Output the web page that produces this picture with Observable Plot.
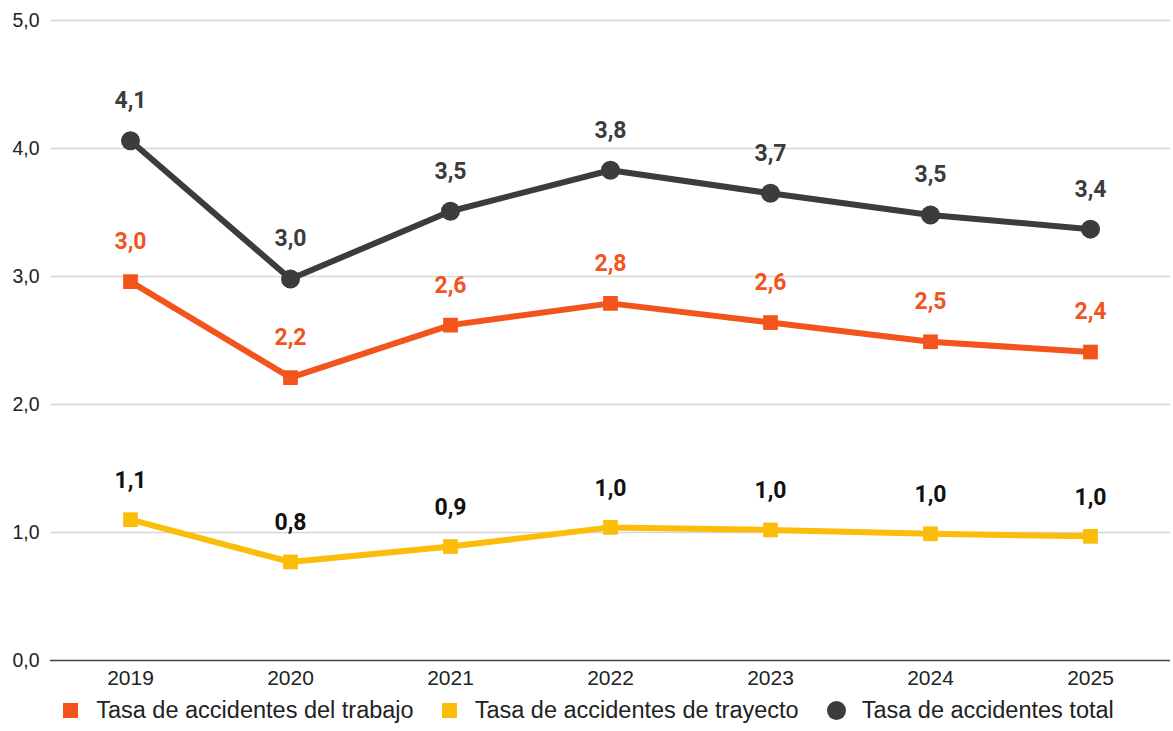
<!DOCTYPE html>
<html>
<head>
<meta charset="utf-8">
<script src="https://cdn.jsdelivr.net/npm/d3@7"></script>
<script src="https://cdn.jsdelivr.net/npm/@observablehq/plot@0.6"></script>
<style>
  html, body { margin: 0; padding: 0; background: #fff; }
  #chart svg { display: block; }
  .legend { display: flex; justify-content: center; align-items: center; height: 41px; font-family: "Liberation Sans", Arial, sans-serif; font-size: 23.5px; color: #222; padding-left: 4px; }
  .legend .item { display: flex; align-items: center; margin: 0 14px; }
  .legend .sw { width: 15px; height: 15px; margin-right: 18px; }
  .legend .sw.circle { width: 19px; height: 19px; border-radius: 50%; margin-right: 16px; }
</style>
</head>
<body>
<div id="chart"></div>
<script>
const years = ["2019", "2020", "2021", "2022", "2023", "2024", "2025"];
const trabajo = [2.96, 2.21, 2.62, 2.79, 2.64, 2.49, 2.41];
const trayecto = [1.10, 0.77, 0.89, 1.04, 1.02, 0.99, 0.97];
const total = [4.06, 2.98, 3.51, 3.83, 3.65, 3.48, 3.37];
const trabajoLabels = ["3,0", "2,2", "2,6", "2,8", "2,6", "2,5", "2,4"];
const trayectoLabels = ["1,1", "0,8", "0,9", "1,0", "1,0", "1,0", "1,0"];
const totalLabels = ["4,1", "3,0", "3,5", "3,8", "3,7", "3,5", "3,4"];
const seriesNames = ["Tasa de accidentes del trabajo", "Tasa de accidentes de trayecto", "Tasa de accidentes total"];
const yTicks = [0, 1, 2, 3, 4, 5];

const colors = { trabajo: "#f2541b", trayecto: "#fbbc0a", total: "#3c3c3c" };

const mk = (vals, labels) => years.map((y, i) => ({ year: y, value: vals[i], label: labels[i] }));
const dTrabajo = mk(trabajo, trabajoLabels);
const dTrayecto = mk(trayecto, trayectoLabels);
const dTotal = mk(total, totalLabels);

const labelFont = { fontFamily: "Roboto, sans-serif", fontWeight: "bold", fontSize: 23 };

const chart = Plot.plot({
  width: 1173,
  height: 690,
  marginTop: 20,
  marginBottom: 30,
  marginLeft: 50,
  marginRight: 3,
  style: { fontFamily: "'Liberation Sans', Arial, sans-serif", fontSize: "19px", color: "#222" },
  x: { type: "point", domain: years, padding: 0.5 },
  y: { domain: [0, 5] },
  marks: [
    Plot.gridY(yTicks.filter(d => d > 0), { stroke: "#d6d6d6", strokeOpacity: 1, strokeWidth: 1.5 }),
    Plot.axisY({ ticks: yTicks, tickSize: 0, tickPadding: 11, tickFormat: d => d.toFixed(1).replace(".", ","), label: null, fontSize: 19.5 }),
    Plot.axisX({ tickSize: 0, tickPadding: 10, label: null, fontSize: 21 }),
    Plot.ruleY([0], { stroke: "#444", strokeWidth: 1.5 }),
    Plot.line(dTrayecto, { x: "year", y: "value", stroke: colors.trayecto, strokeWidth: 6 }),
    Plot.dot(dTrayecto, { x: "year", y: "value", symbol: "square", r: 8.3, fill: colors.trayecto }),
    Plot.line(dTrabajo, { x: "year", y: "value", stroke: colors.trabajo, strokeWidth: 6 }),
    Plot.dot(dTrabajo, { x: "year", y: "value", symbol: "square", r: 8.3, fill: colors.trabajo }),
    Plot.line(dTotal, { x: "year", y: "value", stroke: colors.total, strokeWidth: 6 }),
    Plot.dot(dTotal, { x: "year", y: "value", symbol: "circle", r: 9.5, fill: colors.total }),
    Plot.text(dTrayecto, { x: "year", y: "value", text: "label", dy: -39, fill: "#111", letterSpacing: "0.5px", ...labelFont }),
    Plot.text(dTrabajo, { x: "year", y: "value", text: "label", dy: -40, fill: colors.trabajo, letterSpacing: "0.5px", ...labelFont }),
    Plot.text(dTotal, { x: "year", y: "value", text: "label", dy: -40, fill: colors.total, letterSpacing: "0.5px", ...labelFont })
  ]
});
document.getElementById("chart").appendChild(chart);

const legend = document.createElement("div");
legend.className = "legend";
const swatchColors = [colors.trabajo, colors.trayecto, colors.total];
seriesNames.forEach((name, i) => {
  const item = document.createElement("div");
  item.className = "item";
  const sw = document.createElement("span");
  sw.className = "sw" + (i === 2 ? " circle" : "");
  sw.style.background = swatchColors[i];
  const t = document.createElement("span");
  t.textContent = name;
  item.appendChild(sw);
  item.appendChild(t);
  legend.appendChild(item);
});
document.body.appendChild(legend);
</script>
</body>
</html>
